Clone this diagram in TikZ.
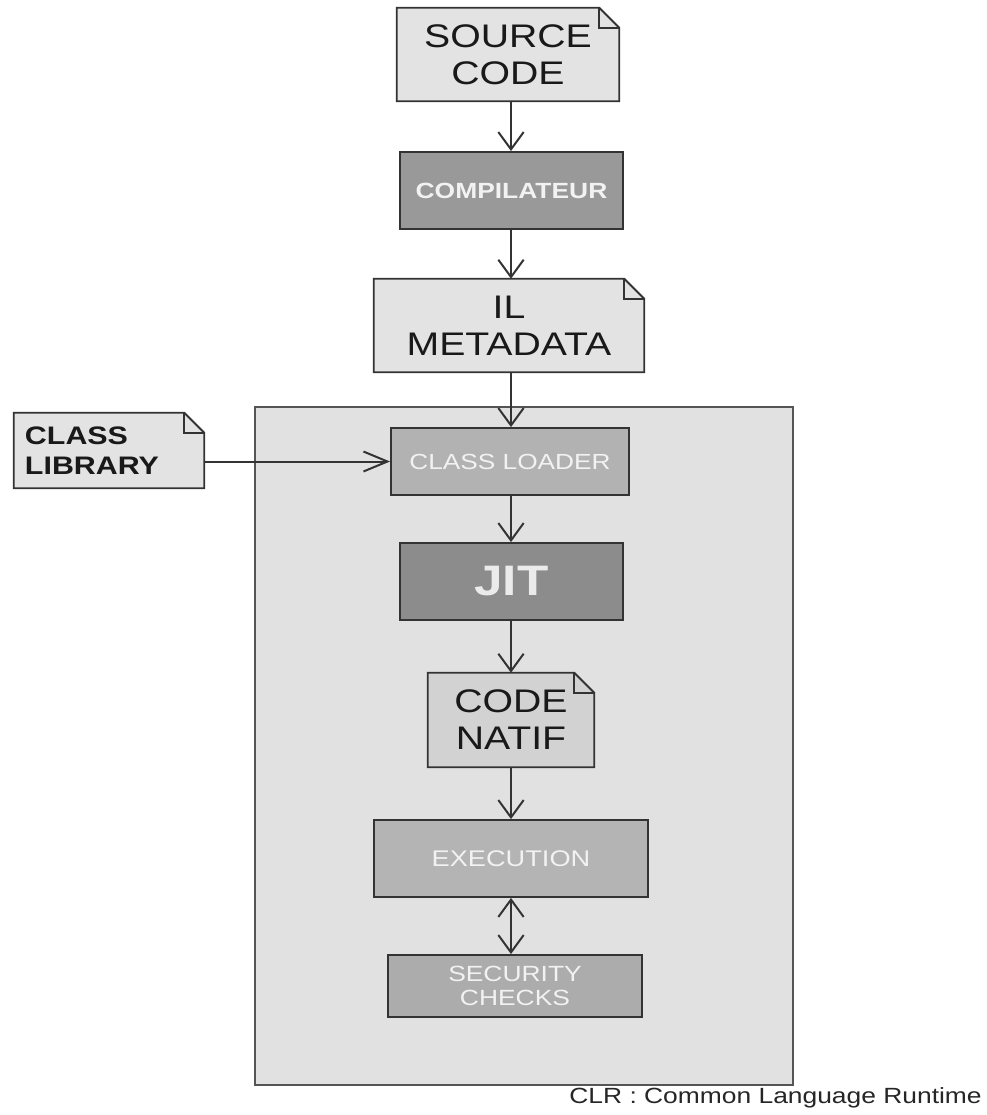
\documentclass[tikz,border=0pt]{standalone}
\usepackage{fontspec}
\setmainfont{Liberation Sans}[FakeStretch=1.2]
\usetikzlibrary{arrows.meta,backgrounds}

\definecolor{ink}{HTML}{333333}
\definecolor{frame}{HTML}{555555}
\definecolor{paper}{HTML}{E3E3E3}
\definecolor{clrfill}{HTML}{E1E1E1}
\definecolor{compfill}{HTML}{999999}
\definecolor{loadfill}{HTML}{B2B2B2}
\definecolor{jitfill}{HTML}{8C8C8C}
\definecolor{natiffill}{HTML}{D2D2D2}
\definecolor{execfill}{HTML}{B4B4B4}
\definecolor{secfill}{HTML}{ACACAC}
\definecolor{lighttext}{HTML}{F2F2F2}

\tikzset{
  sz/.style 2 args={minimum width=#1*0.75pt, minimum height=#2*0.75pt},
  proc/.style={draw=ink, line width=1.4pt, inner sep=0pt, align=center, text=lighttext},
  notetext/.style={inner sep=0pt, align=center, text=black!90,
    font=\fontsize{24.5}{27.75}\selectfont},
  flow/.style={draw=ink, line width=1.5pt, -{Straight Barb[length=13pt,width=19pt]}},
  sideflow/.style={draw=ink, line width=1.5pt, -{Straight Barb[length=18pt,width=15pt]}},
  twoway/.style={draw=ink, line width=1.5pt,
    {Straight Barb[length=13pt,width=19pt]}-{Straight Barb[length=13pt,width=19pt]}},
}

% dog-eared outline behind a named node
\newcommand{\foldnote}[2]{%
  \begin{scope}[on background layer]
    \filldraw[fill=#2, draw=ink, line width=1.4pt, line join=miter]
      (#1.north west) -- ([xshift=-15pt]#1.north east)
      -- ([yshift=-15pt]#1.north east) -- (#1.south east)
      -- (#1.south west) -- cycle;
    \draw[draw=ink, line width=1.2pt]
      ([xshift=-15pt]#1.north east) |- ([yshift=-15pt]#1.north east);
  \end{scope}}

\begin{document}
\begin{tikzpicture}[x=0.75pt, y=-0.75pt]
  \useasboundingbox (0,0) rectangle (987,1115);

  % page and runtime frame
  \begin{scope}[on background layer]
    \fill[white] (0,0) rectangle (987,1115);
    \node[draw=frame, fill=clrfill, line width=1.4pt, inner sep=0pt, sz={538}{678}]
      (clr) at (524,746) {};
  \end{scope}

  \coordinate (ax) at (511,0);

  % compilation chain
  \node[notetext, sz={222}{93}] (src) at (508,54.5) {SOURCE\\CODE};
  \foldnote{src}{paper}

  \node[proc, fill=compfill, sz={223}{77},
        font=\bfseries\fontsize{16.5}{19}\selectfont] (comp) at (511.5,190.5) {COMPILATEUR};

  \node[notetext, sz={270}{93}] (il) at (509,325.5) {IL\\METADATA};
  \foldnote{il}{paper}

  \node[inner sep=0pt, sz={190}{75}, inner xsep=8.25pt, text width=126pt, align=left,
        text=black!90, font=\bfseries\fontsize{19}{23}\selectfont] (lib) at (109,450.5)
        {CLASS\\LIBRARY};
  \foldnote{lib}{paper}

  % inside the runtime
  \node[proc, fill=loadfill, sz={238}{67},
        font=\fontsize{16.4}{19}\selectfont] (loader) at (510,461.5) {CLASS LOADER};

  \node[proc, fill=jitfill, text=black!8, sz={223}{77},
        font=\bfseries\fontsize{32}{36}\selectfont] (jit) at (511.5,581.5) {JIT};

  \node[notetext, sz={166}{94}] (natif) at (511,720) {CODE\\NATIF};
  \foldnote{natif}{natiffill}

  \node[proc, fill=execfill, sz={274}{77},
        font=\fontsize{17}{20}\selectfont] (exec) at (511,858.5) {EXECUTION};

  \node[proc, fill=secfill, sz={254}{62},
        font=\fontsize{16.5}{18.5}\selectfont] (sec) at (515,986) {SECURITY\\CHECKS};

  % connectors
  \draw[flow] (src.south -| ax) -- (comp.north -| ax);
  \draw[flow] (comp.south -| ax) -- (il.north -| ax);
  \draw[flow] (il.south -| ax) -- (loader.north -| ax);
  \draw[sideflow] (lib.east |- loader.west) -- (loader.west);
  \draw[flow] (loader.south -| ax) -- (jit.north -| ax);
  \draw[flow] (jit.south -| ax) -- (natif.north -| ax);
  \draw[flow] (natif.south -| ax) -- (exec.north -| ax);
  \draw[twoway] (exec.south -| ax) -- (sec.north -| ax);

  \node[anchor=base east, inner sep=0pt, text=black!85,
        font=\fontsize{16.5}{19}\selectfont] (caption) at (982,1103)
        {CLR : Common Language Runtime};
\end{tikzpicture}
\end{document}
